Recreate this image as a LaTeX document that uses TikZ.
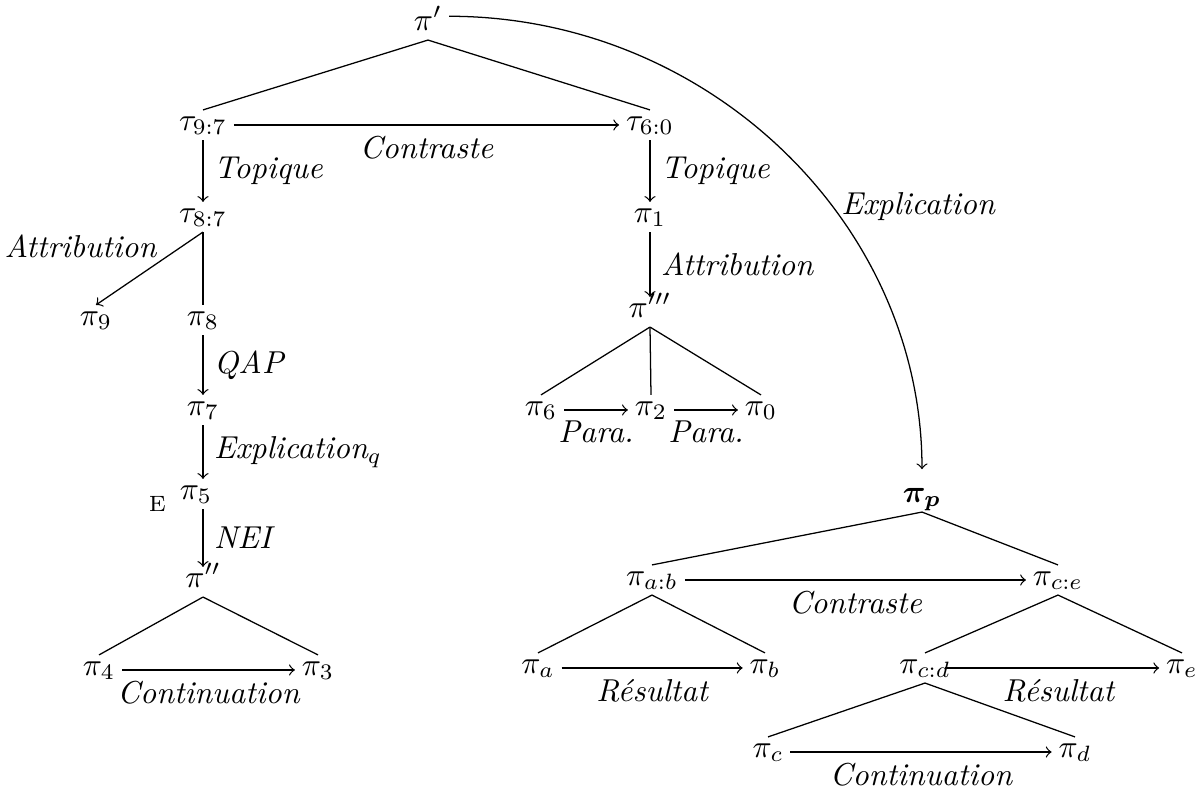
\documentclass[tikz,border=0pt]{standalone}
\usepackage{amsmath,amssymb}
\usepackage{tikz}
\usetikzlibrary{positioning,calc}
\tikzset{
	du/.style={inner xsep=2pt,inner ysep=1pt,text height=1.2ex,text depth=.45ex},
	rel/.style={draw,->},
	sub/.style={draw},
	rname/.style={font=\itshape},
}
\begin{document}
\begin{tikzpicture}[>=to,x=0.0111cm,y=-0.0111cm]
					\useasboundingbox (0,0) rectangle (1202,792);
					\node[du] (pp) at (428,25) {$\pi'$};
					\node[du] (t97) at (203,125) {$\tau_{9:7}$};
					\node[du] (t60) at (650,125) {$\tau_{6:0}$};
					\node[du] (t87) at (203,217) {$\tau_{8:7}$};
					\node[du] (p9) at (96,320) {$\pi_9$};
					\node[du] (p8) at (203,320) {$\pi_8$};
					\node[du] (p7) at (203,410) {$\pi_7$};
					\node[du,label={[font=\scriptsize,inner sep=0pt,label distance=2pt,yshift=-3pt]left:E}] (p5) at (196,494) {$\pi_5$};
					\node[du] (pdd) at (203,582) {$\pi''$};
					\node[du] (p4) at (99,670) {$\pi_4$};
					\node[du] (p3) at (318,670) {$\pi_3$};
					\node[du] (p1) at (650,217) {$\pi_1$};
					\node[du] (pddd) at (650,312) {$\pi'''$};
					\node[du] (p6) at (541,410) {$\pi_6$};
					\node[du] (p2) at (651,410) {$\pi_2$};
					\node[du] (p0) at (761,410) {$\pi_0$};
					\node[du] (ppb) at (922,497) {$\boldsymbol{\pi_p}$};
					\node[du] (pab) at (652,580) {$\pi_{a:b}$};
					\node[du] (pce) at (1058,580) {$\pi_{c:e}$};
					\node[du] (pa) at (538,668) {$\pi_a$};
					\node[du] (pb) at (765,668) {$\pi_b$};
					\node[du] (pcd) at (925,668) {$\pi_{c:d}$};
					\node[du] (pe) at (1182,668) {$\pi_e$};
					\node[du] (pc) at (768,752) {$\pi_c$};
					\node[du] (pd) at (1075,752) {$\pi_d$};
					\draw[sub] (pp.south)--(t97.north);
					\draw[sub] (pp.south)--(t60.north);
					\draw[rel] (t97)--(t60) node[rname,midway,below] {Contraste};
					\draw[rel] (t97.south)--(t87.north) node[rname,midway,right] {Topique};
					\draw[rel] (t87.south)--(p9.north) node[rname,pos=0.4,above left,inner sep=1pt] {Attribution};
					\draw[sub] (t87.south)--(p8.north);
					\draw[rel] (p8.south)--(p7.north) node[rname,midway,right] {QAP};
					\draw[rel] (p7.south)--(p7.south |- p5.north) node[rname,midway,right] {Explication$_q$};
					\draw[rel] (p7.south |- p5.south)--(pdd.north) node[rname,midway,right] {NEI};
					\draw[sub] (pdd.south)--(p4.north);
					\draw[sub] (pdd.south)--(p3.north);
					\draw[rel] (p4)--(p3) node[rname,midway,below] {Continuation};
					\draw[rel] (t60.south)--(p1.north) node[rname,midway,right] {Topique};
					\draw[rel] (p1.south)--(pddd.north) node[rname,midway,right] {Attribution};
					\draw[sub] (pddd.south)--(p6.north);
					\draw[sub] (pddd.south)--(p2.north);
					\draw[sub] (pddd.south)--(p0.north);
					\draw[rel] (p6)--(p2) node[rname,midway,below] {Para.};
					\draw[rel] (p2)--(p0) node[rname,midway,below] {Para.};
					\draw[rel,shorten >=4pt] ([yshift=-2pt]pp.north east) to[out=0,in=90] node[rname,pos=0.6,right] {Explication} (ppb.north);
					\draw[sub] (ppb.south)--(pab.north);
					\draw[sub] (ppb.south)--(pce.north);
					\draw[rel] (pab)--(pce) node[rname,midway,below] {Contraste};
					\draw[sub] (pab.south)--(pa.north);
					\draw[sub] (pab.south)--(pb.north);
					\draw[rel] (pa)--(pb) node[rname,midway,below] {Résultat};
					\draw[sub] (pce.south)--(pcd.north);
					\draw[sub] (pce.south)--(pe.north);
					\draw[rel,shorten <=-4pt] (pcd)--(pe) node[rname,midway,below] {Résultat};
					\draw[sub] (pcd.south)--(pc.north);
					\draw[sub] (pcd.south)--(pd.north);
					\draw[rel] (pc)--(pd) node[rname,midway,below] {Continuation};
				\end{tikzpicture}
\end{document}
